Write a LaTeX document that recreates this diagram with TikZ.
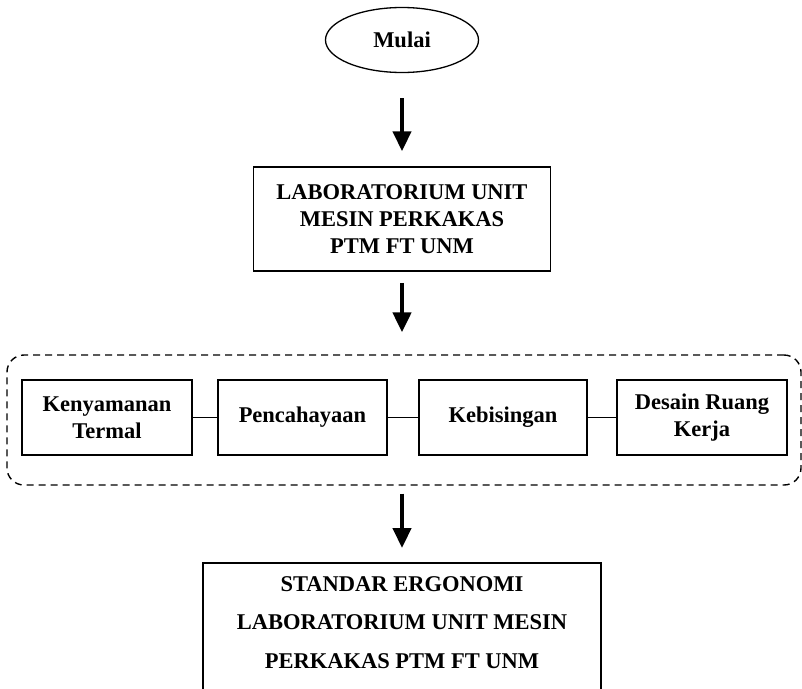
\documentclass[tikz,border=0pt]{standalone}
\usepackage{fontspec}
\setmainfont{Liberation Serif}
\usetikzlibrary{arrows.meta,shapes.geometric}
\tikzset{
  boxtxt/.style={font=\fontsize{22.5}{27}\selectfont\bfseries, align=center},
  framebox/.style={draw, line width=1.5pt, rectangle, inner sep=0pt},
  factorbox/.style={framebox, boxtxt, font=\fontsize{22.5}{26.5}\selectfont\bfseries, minimum width=170pt, minimum height=75pt},
  bigarrow/.style={line width=4.5pt, -{Triangle[length=20pt,width=18pt]}},
  linkline/.style={line width=1.3pt},
  groupbox/.style={draw, line width=1.4pt, dash pattern=on 7pt off 5pt, rounded corners=17pt, rectangle, inner sep=0pt}
}
\begin{document}
\begin{tikzpicture}[x=1pt,y=-1pt]
\useasboundingbox (0,0) rectangle (802,688);
\clip (0,0) rectangle (802,688);
% start
\node[draw, ellipse, line width=1.3pt, inner sep=0pt, minimum width=153pt, minimum height=65pt, boxtxt] (mulai) at (402,40) {Mulai};
% lab box
\node[framebox, boxtxt, minimum width=297pt, minimum height=104pt] (lab) at (402,219) {LABORATORIUM UNIT\\MESIN PERKAKAS\\PTM FT UNM};
% group
\node[groupbox, minimum width=794pt, minimum height=130pt] (group) at (404,420) {};
\node[factorbox] (ka) at (107,417.5) {Kenyamanan\\Termal};
\node[factorbox, minimum width=169pt] (pc) at (302.5,417.5) {Pencahayaan};
\node[factorbox, minimum width=168pt] (kb) at (503,417.5) {Kebisingan};
\node[factorbox] (dr) at (702,417.5) {Desain Ruang\\Kerja};
\draw[linkline] (ka.east) -- (pc.west);
\draw[linkline] (pc.east) -- (kb.west);
\draw[linkline] (kb.east) -- (dr.west);
% result box
\node[framebox, anchor=north] (std) at (402,562) {%
  \begin{minipage}[t][150pt][t]{398pt}\centering
  \fontsize{22.5}{38.5}\selectfont\bfseries
  \vspace*{13.5pt}%
  STANDAR ERGONOMI\\
  LABORATORIUM UNIT MESIN\\
  PERKAKAS PTM FT UNM
  \end{minipage}};
% arrows
\draw[bigarrow, shorten <=25pt, shorten >=15pt] (mulai.south) -- (lab.north);
\draw[bigarrow, shorten <=11pt, shorten >=22pt] (lab.south) -- (lab.south |- group.north);
\draw[bigarrow, shorten <=8pt, shorten >=14pt] (std.north |- group.south) -- (std.north);
\end{tikzpicture}
\end{document}
